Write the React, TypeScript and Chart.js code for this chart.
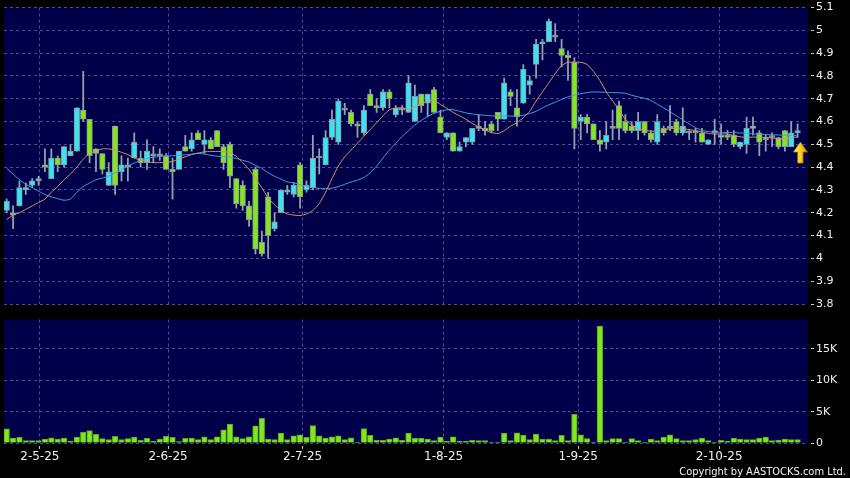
import React, { useEffect, useRef } from "react";
import { Chart, registerables } from "chart.js";

Chart.register(...registerables);

// ---- data ----
const OPEN = [
  4.21, 4.20, 4.23, 4.30, 4.32, 4.34, 4.41, 4.35, 4.44, 4.41,
  4.45, 4.47, 4.65, 4.61, 4.48, 4.46, 4.32, 4.58, 4.38, 4.41,
  4.44, 4.44, 4.42, 4.45, 4.45, 4.45, 4.39, 4.39, 4.49, 4.48,
  4.55, 4.50, 4.52, 4.56, 4.49, 4.50, 4.35, 4.32, 4.23, 4.39,
  4.07, 4.27, 4.13, 4.20, 4.29, 4.28, 4.41, 4.30, 4.31, 4.44,
  4.41, 4.53, 4.51, 4.65, 4.64, 4.59, 4.55, 4.72, 4.67, 4.66,
  4.73, 4.63, 4.65, 4.64, 4.60, 4.72, 4.68, 4.74, 4.62, 4.53,
  4.55, 4.47, 4.51, 4.51, 4.57, 4.57, 4.59, 4.64, 4.61, 4.73,
  4.66, 4.68, 4.76, 4.85, 4.94, 4.95, 4.97, 4.92, 4.89, 4.86,
  4.60, 4.62, 4.59, 4.52, 4.51, 4.57, 4.67, 4.60, 4.58, 4.56,
  4.60, 4.55, 4.51, 4.57, 4.57, 4.60, 4.55, 4.55, 4.55, 4.55,
  4.50, 4.55, 4.53, 4.54, 4.54, 4.49, 4.50, 4.57, 4.55, 4.52,
  4.53, 4.53, 4.56, 4.49, 4.55,
];
const HIGH = [
  4.26, 4.23, 4.34, 4.33, 4.35, 4.36, 4.48, 4.48, 4.45, 4.49,
  4.50, 4.66, 4.82, 4.61, 4.48, 4.46, 4.42, 4.58, 4.45, 4.44,
  4.55, 4.47, 4.52, 4.49, 4.48, 4.46, 4.44, 4.47, 4.54, 4.55,
  4.56, 4.56, 4.53, 4.56, 4.50, 4.51, 4.35, 4.34, 4.25, 4.40,
  4.12, 4.29, 4.20, 4.30, 4.32, 4.33, 4.42, 4.34, 4.54, 4.48,
  4.56, 4.65, 4.70, 4.68, 4.65, 4.60, 4.67, 4.74, 4.70, 4.74,
  4.74, 4.67, 4.67, 4.80, 4.76, 4.72, 4.72, 4.75, 4.65, 4.55,
  4.55, 4.51, 4.53, 4.57, 4.63, 4.60, 4.60, 4.64, 4.79, 4.74,
  4.74, 4.85, 4.80, 4.96, 4.96, 5.05, 5.03, 4.96, 4.91, 4.88,
  4.63, 4.63, 4.59, 4.56, 4.60, 4.65, 4.69, 4.63, 4.60, 4.64,
  4.60, 4.56, 4.63, 4.58, 4.67, 4.61, 4.66, 4.56, 4.57, 4.57,
  4.52, 4.61, 4.59, 4.56, 4.56, 4.51, 4.62, 4.62, 4.56, 4.54,
  4.55, 4.53, 4.56, 4.60, 4.59,
];
const LOW = [
  4.20, 4.13, 4.23, 4.28, 4.31, 4.32, 4.38, 4.35, 4.38, 4.40,
  4.45, 4.47, 4.60, 4.42, 4.38, 4.37, 4.32, 4.28, 4.34, 4.34,
  4.44, 4.40, 4.39, 4.42, 4.43, 4.39, 4.26, 4.39, 4.47, 4.47,
  4.52, 4.46, 4.48, 4.49, 4.39, 4.31, 4.22, 4.21, 4.14, 4.02,
  4.01, 4.00, 4.12, 4.20, 4.28, 4.27, 4.22, 4.29, 4.30, 4.37,
  4.41, 4.52, 4.50, 4.63, 4.58, 4.53, 4.54, 4.67, 4.64, 4.65,
  4.66, 4.62, 4.63, 4.64, 4.60, 4.64, 4.62, 4.64, 4.55, 4.52,
  4.47, 4.47, 4.49, 4.50, 4.56, 4.54, 4.55, 4.56, 4.61, 4.67,
  4.58, 4.68, 4.72, 4.79, 4.87, 4.95, 4.95, 4.84, 4.78, 4.48,
  4.52, 4.55, 4.52, 4.47, 4.48, 4.52, 4.52, 4.55, 4.55, 4.52,
  4.54, 4.51, 4.50, 4.54, 4.56, 4.54, 4.54, 4.52, 4.51, 4.51,
  4.50, 4.50, 4.50, 4.52, 4.49, 4.48, 4.46, 4.54, 4.45, 4.47,
  4.49, 4.48, 4.47, 4.49, 4.53,
];
const CLOSE = [
  4.25, 4.19, 4.31, 4.31, 4.34, 4.35, 4.40, 4.44, 4.41, 4.49,
  4.47, 4.66, 4.61, 4.45, 4.46, 4.39, 4.38, 4.32, 4.41, 4.40,
  4.51, 4.42, 4.47, 4.45, 4.45, 4.39, 4.38, 4.47, 4.47, 4.52,
  4.52, 4.52, 4.48, 4.49, 4.42, 4.36, 4.24, 4.23, 4.17, 4.04,
  4.02, 4.10, 4.16, 4.30, 4.30, 4.32, 4.27, 4.32, 4.44, 4.44,
  4.53, 4.61, 4.69, 4.65, 4.59, 4.58, 4.65, 4.67, 4.66, 4.73,
  4.70, 4.66, 4.65, 4.77, 4.71, 4.67, 4.72, 4.64, 4.55, 4.55,
  4.47, 4.49, 4.53, 4.57, 4.57, 4.56, 4.56, 4.61, 4.77, 4.71,
  4.62, 4.83, 4.78, 4.94, 4.95, 5.04, 4.97, 4.89, 4.88, 4.57,
  4.62, 4.59, 4.52, 4.50, 4.54, 4.57, 4.57, 4.56, 4.56, 4.60,
  4.55, 4.52, 4.60, 4.55, 4.57, 4.55, 4.58, 4.55, 4.55, 4.51,
  4.52, 4.56, 4.54, 4.53, 4.50, 4.51, 4.57, 4.58, 4.51, 4.52,
  4.53, 4.49, 4.49, 4.55, 4.56,
];
const MA_SHORT = [
  4.17, 4.19, 4.20, 4.215, 4.23, 4.245, 4.26, 4.29, 4.315, 4.345,
  4.37, 4.40, 4.435, 4.46, 4.47, 4.48, 4.48, 4.475, 4.465, 4.455,
  4.44, 4.43, 4.425, 4.42, 4.42, 4.42, 4.425, 4.435, 4.445, 4.455,
  4.462, 4.467, 4.469, 4.469, 4.468, 4.464, 4.447, 4.42, 4.39, 4.35,
  4.31, 4.265, 4.235, 4.21, 4.195, 4.19, 4.188, 4.195, 4.21, 4.24,
  4.29, 4.35, 4.405, 4.445, 4.475, 4.505, 4.535, 4.565, 4.595, 4.625,
  4.652, 4.658, 4.66, 4.655, 4.665, 4.678, 4.69, 4.693, 4.675, 4.658,
  4.64, 4.625, 4.61, 4.592, 4.576, 4.562, 4.552, 4.547, 4.56, 4.58,
  4.595, 4.617, 4.645, 4.69, 4.73, 4.77, 4.81, 4.845, 4.86, 4.86,
  4.86, 4.85, 4.82, 4.78, 4.73, 4.69, 4.65, 4.61, 4.585, 4.57,
  4.562, 4.558, 4.558, 4.563, 4.568, 4.572, 4.568, 4.565, 4.56, 4.555,
  4.548, 4.545, 4.546, 4.545, 4.538, 4.533, 4.53, 4.532, 4.531, 4.53,
  4.528, 4.525, 4.525, 4.528, 4.533,
];
const MA_LONG = [
  4.395, 4.37, 4.345, 4.325, 4.31, 4.295, 4.28, 4.27, 4.262, 4.255,
  4.26, 4.29, 4.315, 4.33, 4.345, 4.352, 4.362, 4.375, 4.39, 4.405,
  4.418, 4.43, 4.438, 4.443, 4.447, 4.449, 4.45, 4.452, 4.454, 4.457,
  4.46, 4.457, 4.452, 4.448, 4.446, 4.444, 4.438, 4.43, 4.422, 4.408,
  4.395, 4.375, 4.36, 4.348, 4.335, 4.332, 4.323, 4.317, 4.311, 4.307,
  4.306, 4.308, 4.315, 4.325, 4.335, 4.343, 4.355, 4.375, 4.405, 4.44,
  4.475, 4.505, 4.535, 4.56, 4.585, 4.605, 4.622, 4.636, 4.645, 4.651,
  4.652, 4.645, 4.638, 4.633, 4.63, 4.627, 4.625, 4.624, 4.624, 4.624,
  4.624, 4.628, 4.635, 4.645, 4.66, 4.673, 4.685, 4.697, 4.708, 4.716,
  4.722, 4.727, 4.73, 4.729, 4.728, 4.727, 4.726, 4.724, 4.715, 4.708,
  4.702, 4.692, 4.676, 4.66, 4.643, 4.625, 4.607, 4.59, 4.573, 4.562,
  4.556, 4.554, 4.553, 4.552, 4.551, 4.55, 4.548, 4.546, 4.544, 4.543,
  4.542, 4.541, 4.54, 4.539, 4.538,
];
const VOLUME = [
  2270, 790, 900, 370, 370, 370, 630, 840, 630, 790,
  320, 950, 1740, 2000, 1370, 690, 530, 1050, 530, 690,
  950, 420, 740, 260, 630, 1050, 900, 210, 740, 790,
  530, 1000, 530, 1000, 2110, 3000, 1000, 690, 1000, 2740,
  3950, 630, 530, 1580, 530, 1160, 1320, 900, 2790, 1160,
  790, 1000, 1160, 530, 840, 160, 2320, 1210, 420, 420,
  630, 840, 420, 1580, 740, 740, 630, 370, 950, 260,
  1000, 260, 260, 420, 370, 370, 160, 160, 1580, 370,
  1630, 1270, 530, 1420, 630, 630, 370, 1210, 370, 4590,
  1320, 690, 160, 18660, 370, 690, 690, 160, 690, 370,
  110, 630, 370, 950, 1320, 690, 370, 370, 530, 790,
  370, 60, 420, 320, 790, 630, 530, 530, 790, 950,
  370, 470, 630, 530, 530,
];
const X_TICK_POS = [5.2, 25.3, 46.4, 68.5, 89.6, 111.7];
const X_TICK_LABELS = ["2-5-25", "2-6-25", "2-7-25", "1-8-25", "1-9-25", "2-10-25"];
const PRICE_TICKS = [3.8, 3.9, 4.0, 4.1, 4.2, 4.3, 4.4, 4.5, 4.6, 4.7, 4.8, 4.9, 5.0, 5.1];
const VOL_TICKS = [0, 5000, 10000, 15000];
const VOL_TICK_LABELS = ["0", "5K", "10K", "15K"];
const ARROW_X = 124.43;
const ARROW_TIP = 4.51;

// ---- styles ----
const NAVY = "#00004a";
const GRID = "#4e4e8c";
const UP = "#3ae4ee";
const DOWN = "#86e61e";
const BODY_BORDER = "#8896a2";
const WICK = "#96a2b0";
const ORANGE = "#dc925e";
const BLUE = "#3ea2e6";
const VOL_FILL = "#80e620";
const VOL_BORDER = "#5aa616";
const TEXT = "#f0f0f0";
const FONT = "DejaVu Sans";
const X_MIN = -0.42;
const X_MAX = 125.63;

const bgPlugin = {
  id: "navyBg",
  beforeDraw(chart: any) {
    const { ctx, chartArea: a } = chart;
    ctx.save();
    ctx.fillStyle = NAVY;
    ctx.fillRect(a.left, a.top, a.right - a.left, a.bottom - a.top);
    ctx.restore();
  },
};

const arrowPlugin = {
  id: "lastArrow",
  afterDatasetsDraw(chart: any) {
    const { ctx, scales } = chart;
    const cx = scales.x.getPixelForValue(ARROW_X);
    const ty = scales.y.getPixelForValue(ARROW_TIP);
    ctx.save();
    const g = ctx.createLinearGradient(cx - 7, 0, cx + 7, 0);
    g.addColorStop(0, "#fff7a0");
    g.addColorStop(0.45, "#ffd520");
    g.addColorStop(1, "#d99400");
    ctx.beginPath();
    ctx.moveTo(cx, ty);
    ctx.lineTo(cx + 7, ty + 10);
    ctx.lineTo(cx + 2.7, ty + 10);
    ctx.lineTo(cx + 2.7, ty + 21);
    ctx.lineTo(cx - 2.7, ty + 21);
    ctx.lineTo(cx - 2.7, ty + 10);
    ctx.lineTo(cx - 7, ty + 10);
    ctx.closePath();
    ctx.fillStyle = g;
    ctx.fill();
    ctx.strokeStyle = "#a86e00";
    ctx.lineWidth = 0.8;
    ctx.stroke();
    ctx.restore();
  },
};

const xScaleBase = (showLabels: boolean) => ({
  type: "linear" as const,
  min: X_MIN,
  max: X_MAX,
  offset: false,
  afterBuildTicks: (s: any) => {
    s.ticks = X_TICK_POS.map((v) => ({ value: v }));
  },
  grid: {
    color: GRID,
    offset: false,
    drawTicks: showLabels,
    tickLength: 6,
    tickColor: "#c8c8c8",
    tickBorderDash: [0, 3, 3, 20],
  },
  border: { display: false, dash: [3, 3] },
  ticks: {
    display: showLabels,
    autoSkip: false,
    maxRotation: 0,
    padding: 2,
    color: TEXT,
    font: { family: FONT, size: 12, lineHeight: 1 },
    callback: (v: any) => {
      const k = X_TICK_POS.indexOf(Number(v));
      return k >= 0 ? X_TICK_LABELS[k] : "";
    },
  },
  afterFit: (s: any) => {
    s.height = showLabels ? 35 : 0;
  },
});

export default function App() {
  const priceRef = useRef<HTMLCanvasElement>(null);
  const volRef = useRef<HTMLCanvasElement>(null);

  useEffect(() => {
    const idx = OPEN.map((_, i) => i);
    const colorOf = (i: number) =>
      CLOSE[i] > OPEN[i] ? UP : CLOSE[i] < OPEN[i] ? DOWN : WICK;

    const price = new Chart(priceRef.current as HTMLCanvasElement, {
      type: "bar",
      data: {
        datasets: [
          {
            type: "line",
            label: "MA short",
            data: idx.map((i) => ({ x: i, y: MA_SHORT[i] })),
            borderColor: ORANGE,
            borderWidth: 1,
            pointRadius: 0,
            tension: 0.2,
            order: 1,
          } as any,
          {
            type: "line",
            label: "MA long",
            data: idx.map((i) => ({ x: i, y: MA_LONG[i] })),
            borderColor: BLUE,
            borderWidth: 1,
            pointRadius: 0,
            tension: 0.2,
            order: 1,
          } as any,
          {
            type: "bar",
            label: "body",
            data: idx.map((i) => ({ x: i, y: [OPEN[i], CLOSE[i]] })),
            backgroundColor: idx.map(colorOf),
            borderColor: BODY_BORDER,
            borderWidth: 1,
            borderSkipped: false,
            barThickness: 5.6,
            minBarLength: 2,
            grouped: false,
            order: 2,
          } as any,
          {
            type: "bar",
            label: "wick",
            data: idx.map((i) => ({ x: i, y: [LOW[i], HIGH[i]] })),
            backgroundColor: WICK,
            borderWidth: 0,
            barThickness: 1.1,
            grouped: false,
            order: 3,
          } as any,
        ],
      },
      options: {
        responsive: false,
        maintainAspectRatio: false,
        animation: false,
        events: [],
        layout: { padding: { left: 4, top: 6, right: 0, bottom: 8 } },
        plugins: { legend: { display: false }, tooltip: { enabled: false } },
        scales: {
          x: xScaleBase(false) as any,
          y: {
            type: "linear",
            position: "right",
            min: 3.8,
            max: 5.1,
            afterBuildTicks: (s: any) => {
              s.ticks = PRICE_TICKS.map((v) => ({ value: v }));
            },
            grid: {
              color: GRID,
              tickLength: 6,
              tickColor: "#c8c8c8",
              tickBorderDash: [0, 3, 3, 20],
            },
            border: { display: false, dash: [3, 3] },
            ticks: {
              padding: 2,
              color: TEXT,
              font: { family: FONT, size: 11, lineHeight: 1 },
              callback: (v: any) => String(Number(Number(v).toFixed(1))),
            },
            afterFit: (s: any) => {
              s.width = 42;
            },
          } as any,
        },
      },
      plugins: [bgPlugin, arrowPlugin],
    });

    const vol = new Chart(volRef.current as HTMLCanvasElement, {
      type: "bar",
      data: {
        datasets: [
          {
            label: "volume",
            data: idx.map((i) => ({ x: i, y: VOLUME[i] })),
            backgroundColor: VOL_FILL,
            borderColor: VOL_BORDER,
            borderWidth: 1,
            borderSkipped: "start",
            barThickness: 5.6,
            grouped: false,
          } as any,
        ],
      },
      options: {
        responsive: false,
        maintainAspectRatio: false,
        animation: false,
        events: [],
        layout: { padding: { left: 4, top: 6, right: 0, bottom: 0 } },
        plugins: { legend: { display: false }, tooltip: { enabled: false } },
        scales: {
          x: xScaleBase(true) as any,
          y: {
            type: "linear",
            position: "right",
            min: 0,
            max: 19700,
            afterBuildTicks: (s: any) => {
              s.ticks = VOL_TICKS.map((v) => ({ value: v }));
            },
            grid: {
              color: GRID,
              tickLength: 6,
              tickColor: "#c8c8c8",
              tickBorderDash: [0, 3, 3, 20],
            },
            border: { display: false, dash: [3, 3] },
            ticks: {
              padding: 2,
              color: TEXT,
              font: { family: FONT, size: 11, lineHeight: 1 },
              callback: (v: any) => {
                const k = VOL_TICKS.indexOf(Number(v));
                return k >= 0 ? VOL_TICK_LABELS[k] : "";
              },
            },
            afterFit: (s: any) => {
              s.width = 42;
            },
          } as any,
        },
      },
      plugins: [bgPlugin],
    });

    return () => {
      price.destroy();
      vol.destroy();
    };
  }, []);

  return (
    <div
      style={{
        position: "fixed",
        left: 0,
        top: 0,
        width: 850,
        height: 478,
        background: "#000",
        overflow: "hidden",
      }}
    >
      <canvas
        ref={priceRef}
        width={850}
        height={312}
        style={{ position: "absolute", left: 0, top: 0, width: 850, height: 312, display: "block" }}
      />
      <canvas
        ref={volRef}
        width={850}
        height={166}
        style={{ position: "absolute", left: 0, top: 312, width: 850, height: 166, display: "block" }}
      />
      <div
        style={{
          position: "absolute",
          right: 4,
          top: 465,
          fontFamily: '"DejaVu Sans Condensed", "DejaVu Sans", sans-serif',
          fontSize: 11,
          lineHeight: "13px",
          color: "#f4f4f4",
          whiteSpace: "nowrap",
        }}
      >
        Copyright by AASTOCKS.com Ltd.
      </div>
    </div>
  );
}
